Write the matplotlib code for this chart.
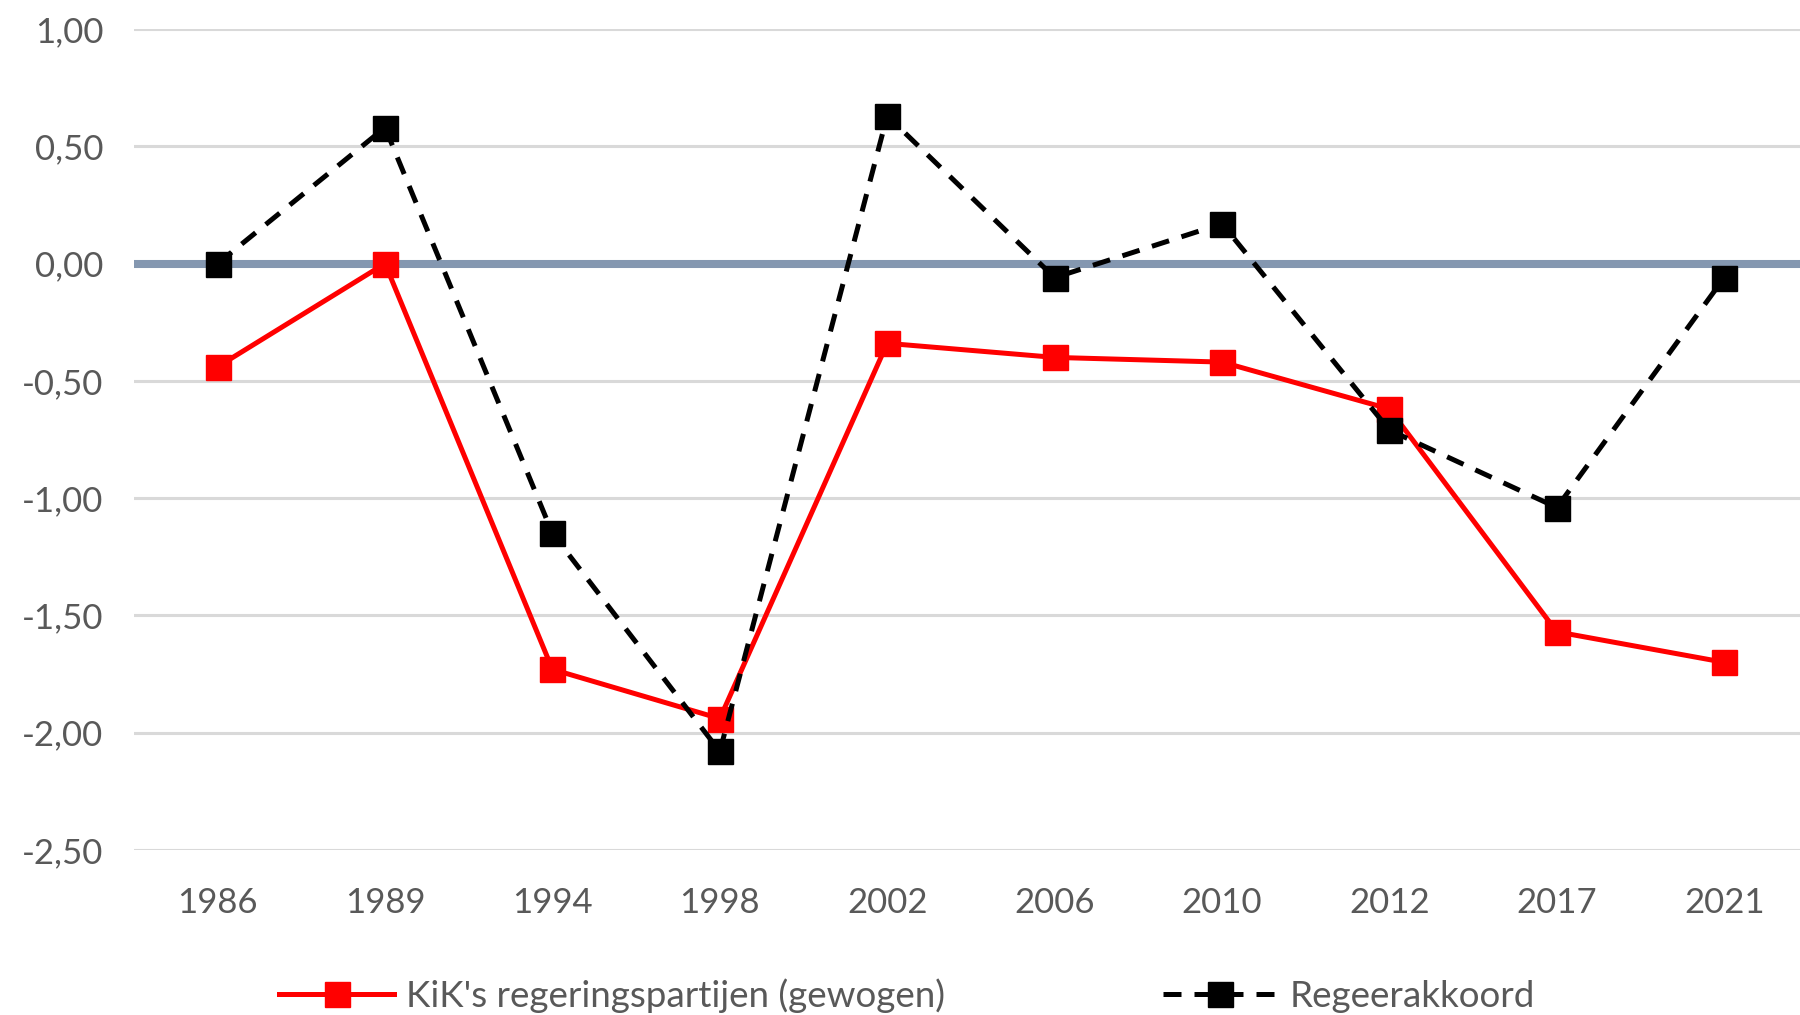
import numpy as np
import matplotlib.pyplot as plt
from matplotlib.ticker import FuncFormatter

plt.rcParams['font.family'] = ['Lato', 'DejaVu Sans']

# years and the two series
years = ['1986', '1989', '1994', '1998', '2002', '2006', '2010', '2012', '2017', '2021']
kik = [-0.44, 0.00, -1.73, -1.94, -0.34, -0.40, -0.42, -0.62, -1.57, -1.70]
akkoord = [0.00, 0.58, -1.15, -2.08, 0.63, -0.06, 0.17, -0.71, -1.04, -0.06]
yticks = [1.0, 0.5, 0.0, -0.5, -1.0, -1.5, -2.0, -2.5]

grey = '#595959'

fig = plt.figure(figsize=(18, 10.15), dpi=100)
ax = fig.add_axes([0.0744, 0.1626, 0.930, 0.8088])

x = np.arange(len(years))
ax.axhline(0, color='#8497b0', lw=5.8, zorder=2)
ax.plot(x, kik, color='#ff0000', lw=3.6, marker='s', markersize=18,
        label="KiK's regeringspartijen (gewogen)", zorder=3)
ax.plot(x, akkoord, color='black', lw=3.6, dashes=(3.6, 2.6), marker='s',
        markersize=18, label='Regeerakkoord', zorder=4)

ax.set_xlim(-0.5, len(years) - 0.5)
ax.set_ylim(-2.5, 1.0)
ax.set_xticks(x)
ax.set_xticklabels(years)
ax.set_yticks(yticks)
ax.yaxis.set_major_formatter(FuncFormatter(lambda v, p: f'{v:.2f}'.replace('.', ',')))
ax.grid(axis='y', color='#d9d9d9', lw=2.2, zorder=1)
ax.set_axisbelow(True)
for s in ax.spines.values():
    s.set_visible(False)
ax.tick_params(axis='both', length=0, labelsize=25, labelcolor=grey)
ax.tick_params(axis='y', pad=22)
ax.tick_params(axis='x', pad=27)

fig.legend(loc='lower center', bbox_to_anchor=(0.504, -0.031), ncol=2, frameon=False,
           fontsize=26.5, labelcolor=grey, handlelength=3.1, columnspacing=5.9,
           handletextpad=0.35)

plt.savefig('out.png', dpi=100)
